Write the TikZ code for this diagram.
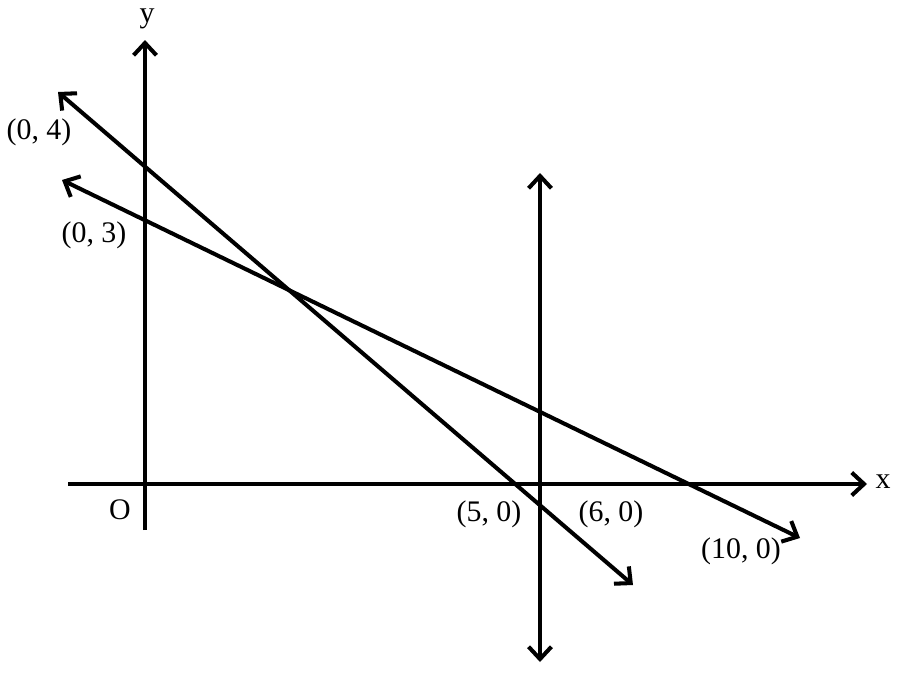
\documentclass[tikz,border=0pt]{standalone}
\usepackage{fontspec}
\setmainfont{Liberation Serif}
\usetikzlibrary{arrows.meta}
\tikzset{
  ln/.style={line width=2.3pt},
  tip/.style={-{Straight Barb[length=7pt,width=13pt,line width=2.3pt]}},
  tips/.style={{Straight Barb[length=7pt,width=13pt,line width=2.3pt]}-{Straight Barb[length=7pt,width=13pt,line width=2.3pt]}},
  lbl/.style={inner sep=0pt,font=\fontsize{17}{20}\selectfont}
}
\begin{document}
\begin{tikzpicture}[x=0.02cm,y=-0.02cm]
\useasboundingbox(0,0)rectangle(900,673);
% axes
\coordinate(xl)at(68,484);\coordinate(xr)at(867,484);
\coordinate(yb)at(145,530);\coordinate(yt)at(145,40);
\draw[ln,tip](xl)--(xr);
\draw[ln,tip](yb)--(yt);
% x = 6
\coordinate(vt)at(540,173);\coordinate(vb)at(540,662);
\draw[ln,tips](vb)--(vt);
% the two lines
\coordinate(pa)at(58,92);\coordinate(pb)at(633,585);
\coordinate(qa)at(62,180);\coordinate(qb)at(800,538);
\draw[ln,tips](pa)--(pb);
\draw[ln,tips](qa)--(qb);
% labels
\node[lbl](lx)at(883,482){x};
\node[lbl](ly)at(147,19){y};
\node[lbl](lo)at(120,510){O};
\node[lbl](l04)at(39,132){(0, 4)};
\node[lbl](l03)at(94,235){(0, 3)};
\node[lbl](l50)at(489,514){(5, 0)};
\node[lbl](l60)at(611,514){(6, 0)};
\node[lbl](l100)at(741,551){(10, 0)};
\end{tikzpicture}
\end{document}
